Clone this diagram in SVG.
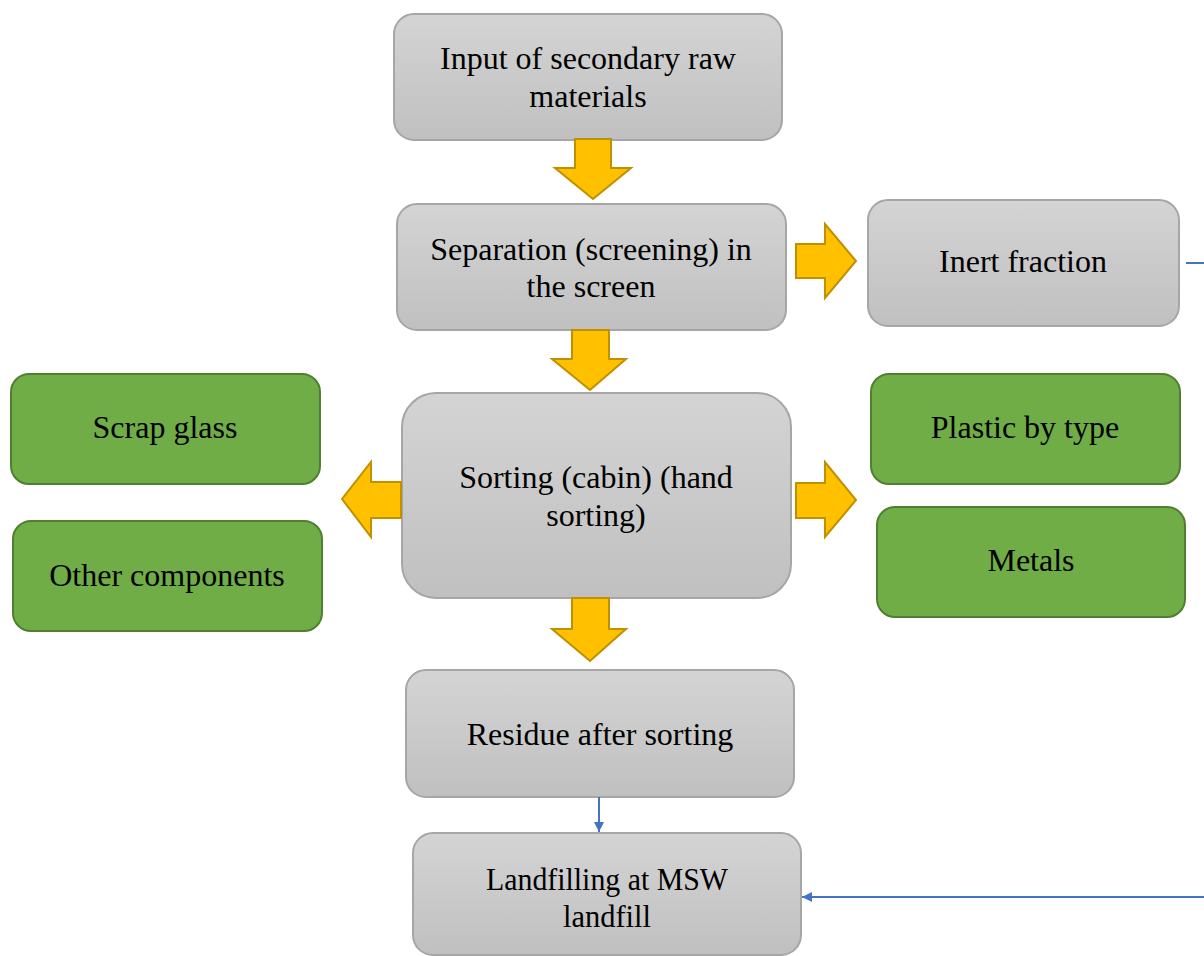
<svg xmlns="http://www.w3.org/2000/svg" width="1204" height="956" viewBox="0 0 1204 956">
<defs>
<linearGradient id="gray" x1="0" y1="0" x2="0" y2="1">
<stop offset="0" stop-color="#d4d4d4"/>
<stop offset="1" stop-color="#c0c0c0"/>
</linearGradient>
<marker id="ah" viewBox="0 0 10 10" refX="10" refY="5" markerWidth="5" markerHeight="5" orient="auto" markerUnits="strokeWidth">
<path d="M0,0 L10,5 L0,10 z" fill="#4472c4"/>
</marker>
<style>
.g{fill:url(#gray);stroke:#a6a6a6;stroke-width:2}
.gr{fill:#70ad47;stroke:#507e32;stroke-width:2}
.t{font-family:"Liberation Serif","Times New Roman",serif;font-size:32px;fill:#000;text-anchor:middle}
.ar{fill:#ffc000;stroke:#bf9000;stroke-width:2;stroke-linejoin:miter}
.bl{fill:none;stroke:#4472c4;stroke-width:2}
</style>
</defs>
<rect width="1204" height="956" fill="#fff"/>
<g id="input">
<rect class="g" x="394" y="14" width="388" height="126" rx="20"/>
<text class="t" x="588" y="69">Input of secondary raw</text>
<text class="t" x="588" y="107">materials</text>
</g>
<g id="separation">
<rect class="g" x="397" y="204" width="389" height="126" rx="20"/>
<text class="t" x="591" y="260">Separation (screening) in</text>
<text class="t" x="591" y="297">the screen</text>
</g>
<g id="inert">
<rect class="g" x="868" y="200" width="311" height="126" rx="20"/>
<text class="t" x="1023" y="272">Inert fraction</text>
</g>
<g id="sorting">
<rect class="g" x="402" y="393" width="389" height="205" rx="34"/>
<text class="t" x="596" y="488">Sorting (cabin) (hand</text>
<text class="t" x="596" y="526">sorting)</text>
</g>
<g id="scrapglass">
<rect class="gr" x="11" y="374" width="309" height="110" rx="18"/>
<text class="t" x="165" y="438">Scrap glass</text>
</g>
<g id="other">
<rect class="gr" x="13" y="521" width="309" height="110" rx="18"/>
<text class="t" x="167" y="586">Other components</text>
</g>
<g id="plastic">
<rect class="gr" x="871" y="374" width="309" height="110" rx="18"/>
<text class="t" x="1025" y="438">Plastic by type</text>
</g>
<g id="metals">
<rect class="gr" x="877" y="507" width="308" height="110" rx="18"/>
<text class="t" x="1031" y="571">Metals</text>
</g>
<g id="residue">
<rect class="g" x="406" y="670" width="388" height="127" rx="20"/>
<text class="t" x="600" y="745">Residue after sorting</text>
</g>
<g id="landfill">
<rect class="g" x="413" y="833" width="388" height="122" rx="20"/>
<text class="t" x="607" y="890" textLength="242" lengthAdjust="spacingAndGlyphs">Landfilling at MSW</text>
<text class="t" x="607" y="927" textLength="88" lengthAdjust="spacingAndGlyphs">landfill</text>
</g>
<g id="connectors">
<path class="ar" d="M575,139 H611 V168 H631 L593,199 L555,168 H575 Z"/>
<path class="ar" d="M572,330 H609 V359 H626 L590,390 L552,359 H572 Z"/>
<path class="ar" d="M572,598 H609 V629 H626 L590,661 L552,629 H572 Z"/>
<path class="ar" d="M796,244 H825 V224 L856,261 L825,298 V278 H796 Z"/>
<path class="ar" d="M796,483 H825 V462 L856,500 L825,537 V518 H796 Z"/>
<path class="ar" d="M401,482 H371 V462 L342,499 L371,537 V518 H401 Z"/>
<line class="bl" x1="1186" y1="263" x2="1204" y2="263"/>
<line class="bl" x1="599" y1="797" x2="599" y2="832" marker-end="url(#ah)"/>
<line class="bl" x1="1204" y1="897" x2="802" y2="897" marker-end="url(#ah)"/>
</g>
</svg>
